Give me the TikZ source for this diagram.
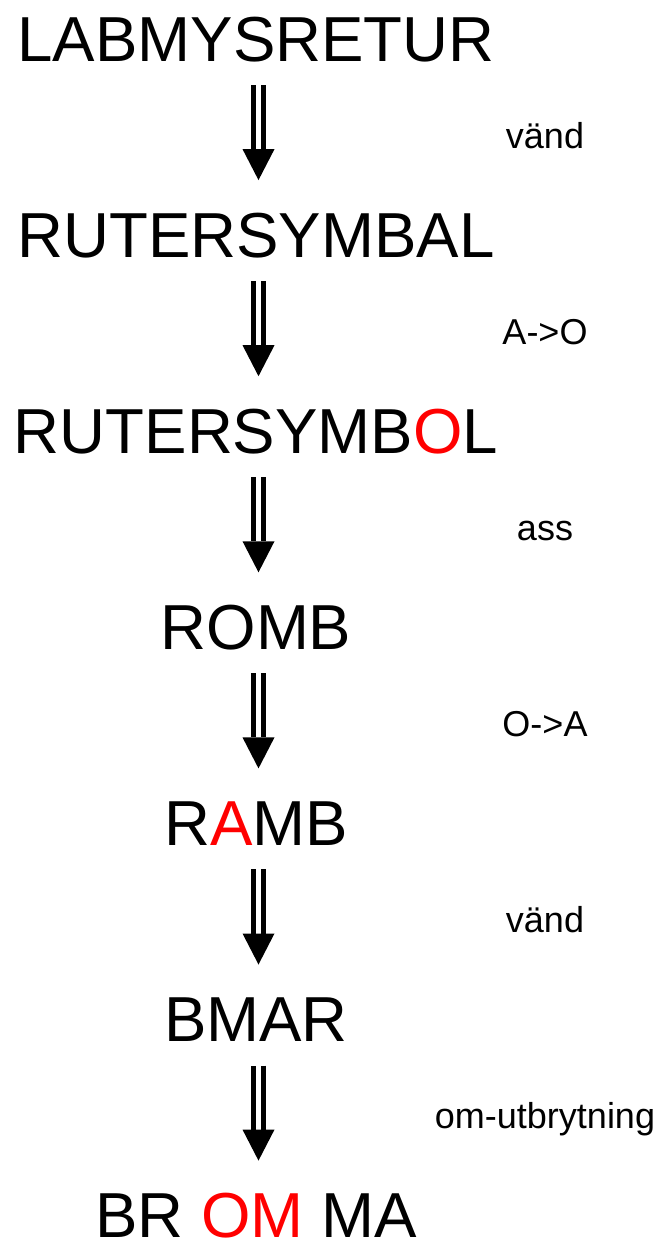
\documentclass[tikz,border=0pt]{standalone}
\usepackage{fontspec}
\setmainfont{Liberation Sans}
\usetikzlibrary{arrows.meta}
\tikzset{>=latex}
\colorlet{myred}{red}
\tikzstyle{word}=[anchor=base,inner sep=0pt,font=\fontsize{47.7pt}{50pt}\selectfont]
\tikzstyle{oper}=[anchor=base,inner sep=0pt,font=\fontsize{27pt}{30pt}\selectfont]
\tikzstyle{xarrow}=[line width=3.975pt,double=white,double distance=3.975pt,
  -{Triangle[length=23.25pt,width=24pt,line width=0pt]}]
\def\conv#1#2{\draw[xarrow] ([shift={(2.5,24)}]#1.base) -- ([shift={(2.5,-77)}]#2.base)}

\begin{document}
\begin{tikzpicture}[x=0.75pt,y=-0.75pt]
  \useasboundingbox (0,0) rectangle (668,1243);
  \def\xc{256} % centre of the words
  \def\xo{545} % centre of the operations
  \node[word] (w0) at (\xc,61)     {LABMYSRETUR};
  \node[word] (w1) at (\xc,257.1)  {RUTERSYMBAL};
  \node[word] (w2) at (\xc,453.2)  {RUTERSYMB\textcolor{myred}{O}L};
  \node[word] (w3) at (\xc,649.3)  {ROMB};
  \node[word] (w4) at (\xc,845.4)  {R\textcolor{myred}{A}MB};
  \node[word] (w5) at (\xc,1041.5) {BMAR};
  \node[word] (w6) at (\xc,1237.6) {BR \textcolor{myred}{OM} MA};
  \conv{w0}{w1};
  \conv{w1}{w2};
  \conv{w2}{w3};
  \conv{w3}{w4};
  \conv{w4}{w5};
  \conv{w5}{w6};
  \node[oper] (o0) at (\xo,148)    {vänd};
  \node[oper] (o1) at (\xo,344.1)  {A->O};
  \node[oper] (o2) at (\xo,540.2)  {ass};
  \node[oper] (o3) at (\xo,736.3)  {O->A};
  \node[oper] (o4) at (\xo,932.4)  {vänd};
  \node[oper] (o5) at (\xo,1128.5) {om-utbrytning};
\end{tikzpicture}
\end{document}
